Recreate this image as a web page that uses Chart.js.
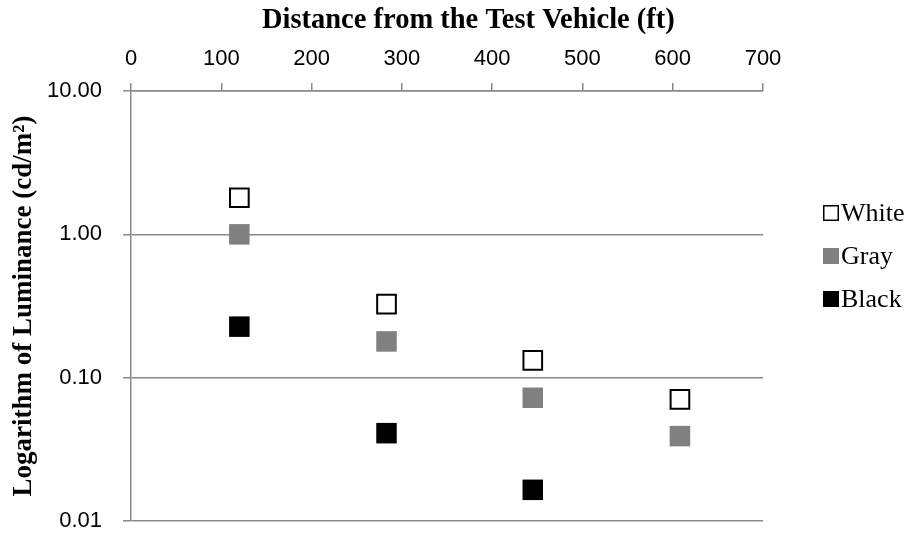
<!DOCTYPE html>
<html>
<head>
<meta charset="utf-8">
<script src="https://cdn.jsdelivr.net/npm/chart.js@4.4.1/dist/chart.umd.min.js"></script>
<style>
  html, body { margin: 0; padding: 0; background: #fff; }
  #wrap { width: 915px; height: 533px; }
</style>
</head>
<body>
<div id="wrap"><canvas id="lumChart" width="915" height="533"></canvas></div>
<script>
// distance of each target from the test vehicle (ft)
var distances = [120, 283, 445, 608];
// luminance (cd/m2)
var whiteLum = [1.80, 0.326, 0.132, 0.0706];
var grayLum = [1.00, 0.179, 0.0724, 0.0391];
var blackLum = [0.227, 0.041, 0.0165];

var xTicks = [0, 100, 200, 300, 400, 500, 600, 700];
var yTicks = [0.01, 0.1, 1, 10];

var gridGray = '#8a8a8a';

function toPoints(vals) {
    var pts = [];
    for (var i = 0; i < vals.length; i++) {
        pts.push({x: distances[i], y: vals[i]});
    }
    return pts;
}

// legend drawn at the right, from the datasets
var sideLegend = {
    id: 'sideLegend',
    afterDraw: function(chart) {
        var ctx = chart.ctx;
        var left = 823, top = 213, step = 43, box = 16;
        ctx.save();
        ctx.font = '26px "Liberation Serif"';
        ctx.textBaseline = 'middle';
        ctx.textAlign = 'left';
        chart.data.datasets.forEach(function(ds, i) {
            var cy = top + i * step;
            ctx.fillStyle = ds.backgroundColor;
            ctx.fillRect(left, cy - box / 2, box, box);
            if (ds.borderWidth > 0) {
                ctx.lineWidth = 1.5;
                ctx.strokeStyle = ds.borderColor;
                ctx.strokeRect(left + 0.75, cy - box / 2 + 0.75, box - 1.5, box - 1.5);
            }
            ctx.fillStyle = '#000';
            ctx.fillText(ds.label, left + box + 2, cy + 1);
        });
        ctx.restore();
    }
};

var ctx = document.getElementById('lumChart').getContext('2d');
var chart = new Chart(ctx, {
    type: 'scatter',
    data: {
        datasets: [
            {label: 'White', data: toPoints(whiteLum), pointStyle: 'rect', pointRadius: 13.2,
             backgroundColor: '#ffffff', borderColor: '#000000', borderWidth: 2},
            {label: 'Gray', data: toPoints(grayLum), pointStyle: 'rect', pointRadius: 14.5,
             backgroundColor: '#808080', borderColor: '#808080', borderWidth: 0},
            {label: 'Black', data: toPoints(blackLum), pointStyle: 'rect', pointRadius: 14.5,
             backgroundColor: '#000000', borderColor: '#000000', borderWidth: 0}
        ]
    },
    options: {
        responsive: false,
        animation: false,
        events: [],
        layout: {autoPadding: false, padding: {left: 0, top: 0, right: 152, bottom: 12}},
        plugins: {
            legend: {display: false},
            tooltip: {enabled: false}
        },
        scales: {
            x: {
                type: 'linear',
                position: 'top',
                min: 0,
                max: 700,
                afterBuildTicks: function(scale) {
                    scale.ticks = xTicks.map(function(v) { return {value: v}; });
                },
                afterFit: function(scale) { scale.height = 91; },
                ticks: {
                    padding: 11,
                    color: '#000',
                    font: {family: '"Liberation Sans"', size: 22}
                },
                grid: {drawOnChartArea: false, tickLength: 8, color: gridGray, lineWidth: 1.5},
                border: {display: true, color: gridGray, width: 1.5},
                title: {
                    display: true,
                    // leading spaces nudge the title right, like the original
                    text: '\u00a0\u00a0\u00a0\u00a0\u00a0\u00a0Distance from the Test Vehicle (ft)',
                    color: '#000',
                    padding: {top: 4, bottom: 0},
                    font: {family: '"Liberation Serif"', size: 28.5, weight: 'bold'}
                }
            },
            y: {
                type: 'logarithmic',
                min: 0.01,
                max: 10,
                afterBuildTicks: function(scale) {
                    scale.ticks = yTicks.map(function(v) { return {value: v}; });
                },
                afterFit: function(scale) {
                    scale.width = 131;
                    // plot area edges are fixed by hand
                    scale.paddingTop = 0;
                    scale.paddingBottom = 0;
                },
                ticks: {
                    padding: 21,
                    color: '#000',
                    font: {family: '"Liberation Sans"', size: 22},
                    callback: function(v) { return Number(v).toFixed(2); }
                },
                grid: {color: gridGray, lineWidth: 1.5, tickLength: 8},
                border: {display: true, color: gridGray, width: 1.5},
                title: {
                    display: true,
                    text: 'Logarithm of Luminance (cd/m\u00b2)',
                    color: '#000',
                    padding: {top: 8, bottom: 0},
                    font: {family: '"Liberation Serif"', size: 27, weight: 'bold'}
                }
            }
        }
    },
    plugins: [sideLegend]
});
</script>
</body>
</html>
